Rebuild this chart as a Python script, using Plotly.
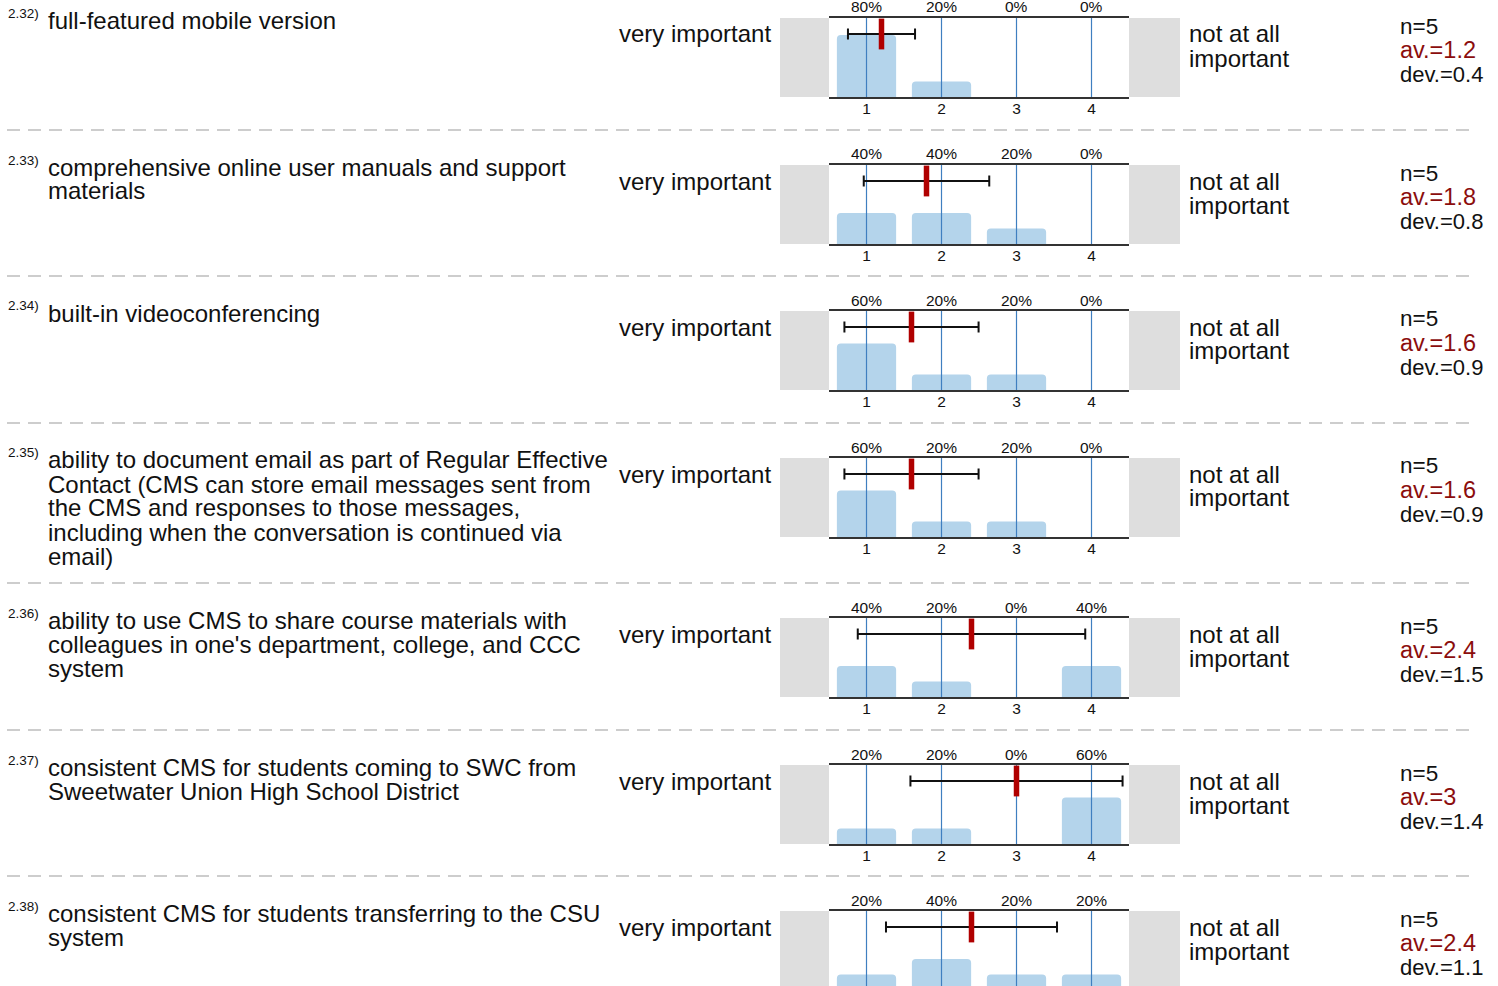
import numpy as np
import plotly.graph_objects as go

# ── Data ────────────────────────────────────────────────────────────────────
QUESTION_IDS = ["2.32)", "2.33)", "2.34)", "2.35)", "2.36)", "2.37)", "2.38)"]
QUESTIONS = [
    ["full-featured mobile version"],
    ["comprehensive online user manuals and support", "materials"],
    ["built-in videoconferencing"],
    ["ability to document email as part of Regular Effective",
     "Contact (CMS can store email messages sent from",
     "the CMS and responses to those messages,",
     "including when the conversation is continued via",
     "email)"],
    ["ability to use CMS to share course materials with",
     "colleagues in one's department, college, and CCC",
     "system"],
    ["consistent CMS for students coming to SWC from",
     "Sweetwater Union High School District"],
    ["consistent CMS for students transferring to the CSU", "system"],
]
SCALE = [1, 2, 3, 4]
PCT_1 = [80, 20, 0, 0]
PCT_2 = [40, 40, 20, 0]
PCT_3 = [60, 20, 20, 0]
PCT_4 = [60, 20, 20, 0]
PCT_5 = [40, 20, 0, 40]
PCT_6 = [20, 20, 0, 60]
PCT_7 = [20, 40, 20, 20]
PERCENTS = [PCT_1, PCT_2, PCT_3, PCT_4, PCT_5, PCT_6, PCT_7]
N_RESP = [5, 5, 5, 5, 5, 5, 5]
LEFT_LABEL = "very important"
RIGHT_LABEL = ["not at all", "important"]

# ── Style / layout ──────────────────────────────────────────────────────────
W, H = 1498, 986
FONT = "Liberation Sans, Arial, sans-serif"
BAR_COLOR = "#b4d4eb"
GRID_BLUE = "#3f7fc0"
MEAN_RED = "#b00000"
AV_RED = "#8b0d0d"
BOX_GREY = "#dedede"
LINE_DARK = "#333333"
BIG = 24
SMALL = 15.5

ROW_TOPS = [-17, 130, 276, 423, 583, 730, 876]   # separator y (px) of each row
BOX_X0, BOX_X1 = 829, 1129
BOX_DY0, BOX_DY1 = 35, 114                        # plot box relative to row top
PX_PER_PCT = 0.775
Y_TOP = (BOX_DY1 - BOX_DY0) / PX_PER_PCT
ERR_Y = Y_TOP - 16 / PX_PER_PCT


def px(x):
    return x / W


def py(y):
    return 1 - y / H


fig = go.Figure()
layout = dict(
    width=W, height=H,
    margin=dict(l=0, r=0, t=0, b=0),
    paper_bgcolor="white", plot_bgcolor="white",
    showlegend=False,
    font=dict(family=FONT, color="#111"),
)
shapes, annotations = [], []


def text(x, y, s, size, anchor="left", color="#111"):
    annotations.append(dict(
        x=px(x), y=py(y), xref="paper", yref="paper", text=s, showarrow=False,
        xanchor=anchor, yanchor="middle", font=dict(size=size, color=color, family=FONT),
        borderpad=0,
    ))


for i, (qid, lines, pct, n) in enumerate(zip(QUESTION_IDS, QUESTIONS, PERCENTS, N_RESP)):
    k = i + 1
    sfx = "" if k == 1 else str(k)
    xa, ya = "x" + sfx, "y" + sfx
    S = ROW_TOPS[i]

    # stats from the distribution
    counts = np.array(pct) * n / 100
    vals = np.array(SCALE)
    mean = (counts * vals).sum() / n
    sd = np.sqrt((counts * (vals - mean) ** 2).sum() / (n - 1))

    top, bot = S + BOX_DY0, S + BOX_DY1
    y_lo = 0.0
    if bot > H:
        y_lo = (bot - H) / PX_PER_PCT
        bot = H
    cut = y_lo > 0

    layout["xaxis" + sfx] = dict(
        domain=[px(BOX_X0), px(BOX_X1)], anchor=ya, range=[0.5, 4.5],
        tickvals=SCALE, ticktext=[str(v) for v in SCALE],
        showgrid=False, zeroline=False, ticks="",
        showline=True, linecolor=LINE_DARK, linewidth=2,
        mirror=not cut, side="top" if cut else "bottom",
        showticklabels=not cut, ticklabelstandoff=-4,
        tickfont=dict(size=SMALL, color="#111"), fixedrange=True,
    )
    layout["yaxis" + sfx] = dict(
        domain=[py(bot), py(top)], anchor=xa, range=[y_lo, Y_TOP],
        visible=False, fixedrange=True,
    )

    fig.add_trace(go.Bar(
        x=SCALE, y=pct, xaxis=xa, yaxis=ya, width=0.79,
        marker=dict(color=BAR_COLOR, cornerradius=4, line=dict(width=0)),
        hoverinfo="skip",
    ))
    # blue reference lines at the scale points (over the bars, under the mean)
    gx, gy = [], []
    for v in SCALE:
        gx += [v, v, None]
        gy += [y_lo, Y_TOP, None]
    fig.add_trace(go.Scatter(
        x=gx, y=gy, xaxis=xa, yaxis=ya, mode="lines",
        line=dict(color=GRID_BLUE, width=1.2), hoverinfo="skip",
    ))
    fig.add_trace(go.Scatter(
        x=[mean], y=[ERR_Y], xaxis=xa, yaxis=ya, mode="markers",
        marker=dict(size=1, color="rgba(0,0,0,0)"),
        error_x=dict(type="data", array=[sd], color="#111", thickness=2, width=5.5),
        hoverinfo="skip",
    ))
    fig.add_trace(go.Scatter(
        x=[mean], y=[ERR_Y], xaxis=xa, yaxis=ya, mode="markers",
        marker=dict(symbol="line-ns", size=22, line=dict(width=5.5, color=MEAN_RED)),
        hoverinfo="skip",
    ))

    # grey end boxes
    for x0, x1 in [(780, BOX_X0), (BOX_X1, 1180)]:
        shapes.append(dict(type="rect", xref="paper", yref="paper",
                           x0=px(x0), x1=px(x1), y0=py(bot), y1=py(top),
                           fillcolor=BOX_GREY, line=dict(width=0), layer="below"))
    # percentages above the box
    for v, p in zip(SCALE, pct):
        annotations.append(dict(
            x=v, y=1, xref=xa, yref=ya + " domain", text=f"{p}%", showarrow=False,
            xanchor="center", yanchor="middle", yshift=11,
            font=dict(size=SMALL, color="#111", family=FONT),
        ))

    # texts
    text(7, S + 30, qid, 13.5)
    for j, line in enumerate(lines):
        text(47, S + 37 + 24 * j, line, BIG)
    text(772, S + 51, LEFT_LABEL, BIG, anchor="right")
    for j, line in enumerate(RIGHT_LABEL):
        text(1188, S + 51 + 24 * j, line, BIG)
    text(1399, S + 43, f"n={n}", 22.5)
    text(1399, S + 67, f"av.={round(mean, 1):g}", 23.5, color=AV_RED)
    text(1399, S + 91, f"dev.={round(sd, 1):g}", 22)

    # dashed separator below the row
    if i + 1 < len(ROW_TOPS):
        sy = ROW_TOPS[i + 1]
        shapes.append(dict(type="line", xref="paper", yref="paper",
                           x0=px(7), x1=px(1471), y0=py(sy), y1=py(sy),
                           line=dict(color="#bdbdbd", width=1.5, dash="13px,8px")))

layout["shapes"] = shapes
layout["annotations"] = annotations
fig.update_layout(**layout)

# the page body has an 8px default margin; drop it so the figure fills the window
fig.write_html("out.html", config={"displayModeBar": False},
               post_script="document.body.style.margin='0';")
